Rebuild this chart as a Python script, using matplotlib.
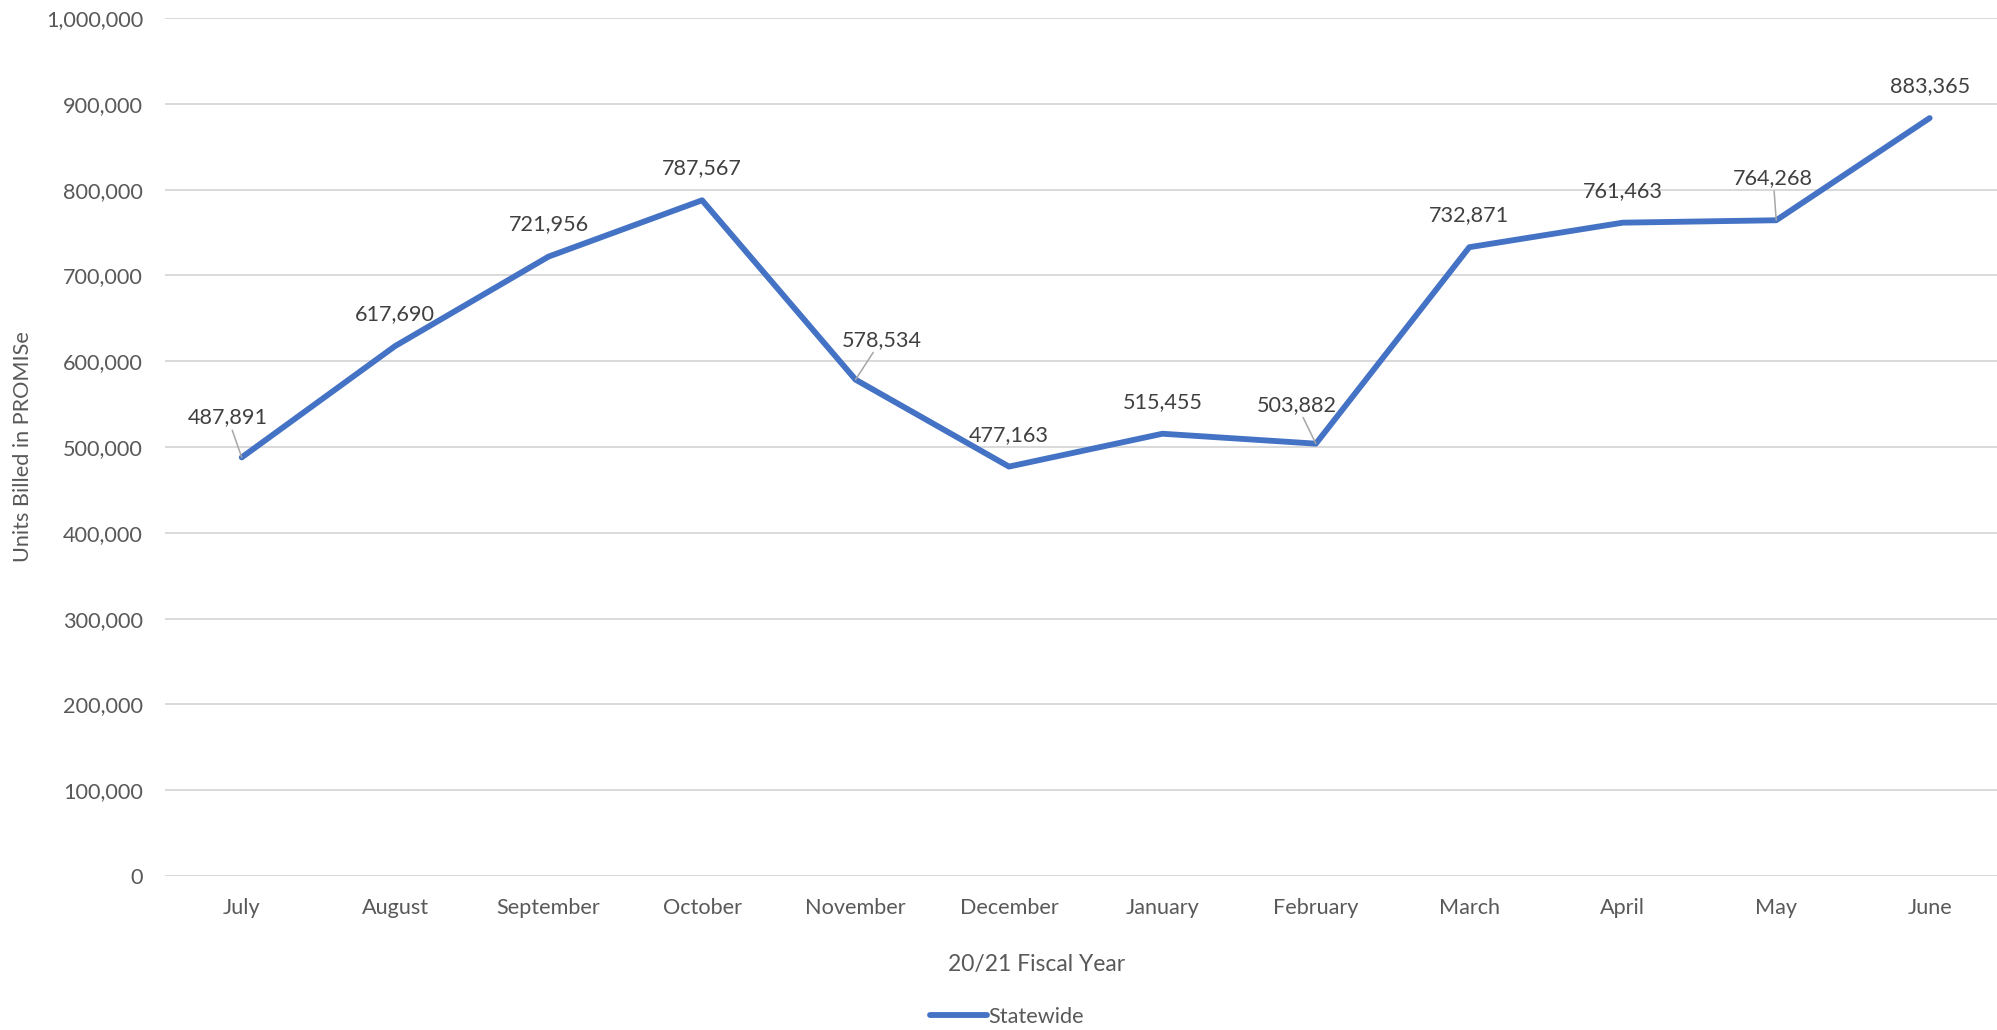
import matplotlib
matplotlib.use("Agg")
import matplotlib.pyplot as plt
from matplotlib.ticker import FuncFormatter, MultipleLocator

# Monthly units billed, 20/21 fiscal year
months = ["July", "August", "September", "October", "November", "December",
          "January", "February", "March", "April", "May", "June"]
units = [487891, 617690, 721956, 787567, 578534, 477163,
         515455, 503882, 732871, 761463, 764268, 883365]

# Label offsets (pixels, right/up) from each point; labels that are nudged get a leader line
label_dx = [-14, 0, 0, 0, 26, 0, 0, -19, 0, 0, -3, 0]
label_dy = [40, 32, 32, 32, 40, 32, 32, 39, 32, 32, 42, 32]
leader = [True, False, False, False, True, False, False, True, False, False, True, False]

plt.rcParams["font.family"] = ["Lato", "DejaVu Sans"]

W, H, DPI = 1997, 1030, 100
fig = plt.figure(figsize=(W / DPI, H / DPI), dpi=DPI)
ax = fig.add_axes([165 / W, 1 - 876 / H, 1 - 165 / W, (876 - 18) / H])

line_color = "#4472C4"
x = list(range(len(months)))
ax.plot(x, units, color=line_color, lw=4.2, solid_joinstyle="round",
        solid_capstyle="round", label="Statewide", zorder=3)

FS = 15.6
px2pt = 72 / DPI
for i, v in enumerate(units):
    kw = {}
    if leader[i]:
        kw["arrowprops"] = dict(arrowstyle="-", color="#A6A6A6", lw=1.1,
                                shrinkA=0, shrinkB=0)
    ax.annotate(f"{v:,}", xy=(i, v),
                xytext=(label_dx[i] * px2pt, label_dy[i] * px2pt),
                textcoords="offset points", ha="center", va="center",
                fontsize=FS, color="#404040", zorder=4, **kw)

ax.set_xlim(-0.5, -0.5 + (W - 165) / 153.45)
ax.set_ylim(0, 1000000)
ax.yaxis.set_major_locator(MultipleLocator(100000))
ax.yaxis.set_major_formatter(FuncFormatter(lambda val, pos: f"{int(val):,}"))
ax.set_xticks(x)
ax.set_xticklabels(months)

ax.grid(axis="y", color="#D9D9D9", lw=1.4)
ax.set_axisbelow(True)
for s in ax.spines.values():
    s.set_visible(False)

ax.tick_params(axis="y", length=0, pad=15.8, labelsize=FS, labelcolor="#595959")
ax.tick_params(axis="x", length=0, pad=15.5, labelsize=FS, labelcolor="#595959")

ax.set_ylabel("Units Billed in PROMISe", fontsize=FS, color="#595959")
ax.yaxis.label.set_va("center")
ax.yaxis.set_label_coords((23 - 165) / (W - 165), 0.5)

ax.set_xlabel("20/21 Fiscal Year", fontsize=16.5, color="#595959")
ax.xaxis.label.set_va("center")
ax.xaxis.set_label_coords((1037 - 165) / (W - 165), (876 - 965) / 858)

fig.legend(loc="center", bbox_to_anchor=(1007 / W, 1 - 1017 / H), frameon=False,
           fontsize=FS, labelcolor="#595959", handlelength=2.6, handletextpad=0.05)

fig.savefig("out.png", dpi=DPI)
